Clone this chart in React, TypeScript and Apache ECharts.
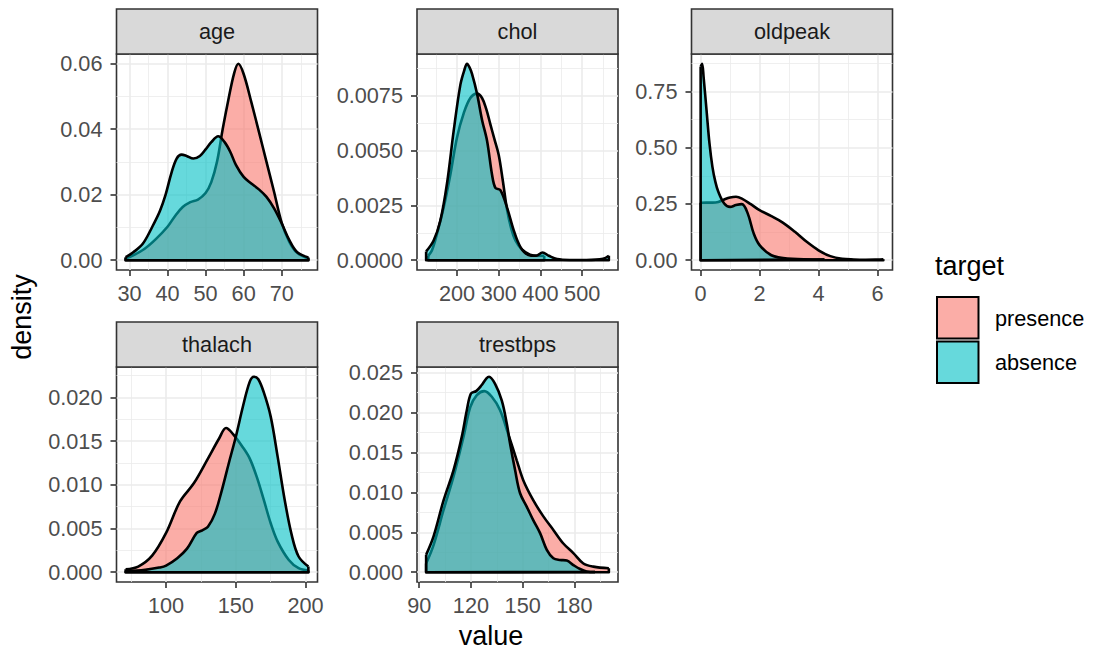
import React, { useEffect, useRef } from 'react';
import * as echarts from 'echarts';

// ---------- data ----------
const facetNames = ['age', 'chol', 'oldpeak', 'thalach', 'trestbps'];
const groupNames = ['presence', 'absence'];

// age
const agePresX = [29, 31, 34, 37, 40, 42, 44, 46, 48, 50, 51.5, 53, 54.5, 56, 57.5, 58.6, 60, 62, 64, 66, 68, 70, 72, 74, 77];
const agePresY = [0.0006, 0.0015, 0.0035, 0.0065, 0.0102, 0.0135, 0.0162, 0.0177, 0.0185, 0.0205, 0.0238, 0.03, 0.04, 0.049, 0.057, 0.0599, 0.0568, 0.0483, 0.0392, 0.03, 0.0208, 0.0114, 0.0056, 0.0023, 0.0005];
const ageAbsX = [29, 31, 33.5, 36, 38, 39.5, 41, 42.4, 43.7, 45, 46.8, 48.5, 50, 51.5, 53.3, 55, 56.5, 58, 60, 62, 64, 66, 68, 70, 72, 74, 77];
const ageAbsY = [0.0009, 0.0024, 0.005, 0.0102, 0.015, 0.02, 0.0265, 0.031, 0.0322, 0.0318, 0.031, 0.0318, 0.0338, 0.036, 0.0378, 0.036, 0.033, 0.029, 0.0254, 0.0234, 0.0216, 0.0193, 0.0158, 0.0112, 0.0061, 0.0025, 0.0008];

// chol
const cholPresX = [131, 140, 152, 168, 184, 200, 216, 232, 248, 260, 270, 280, 290, 300, 310, 320, 330, 340, 355, 375, 395, 409];
const cholPresY = [0.0002, 0.00045, 0.0012, 0.0024, 0.0039, 0.0056, 0.0067, 0.0074, 0.0076, 0.0074, 0.0069, 0.0062, 0.0055, 0.0048, 0.0036, 0.0023, 0.00144, 0.0009, 0.0005, 0.00025, 0.0002, 0.0002];
const cholAbsX = [126, 144, 160, 176, 192, 208, 218, 224, 230, 236, 248, 260, 272, 284, 292, 304, 320, 336, 352, 370, 390, 405, 420, 440, 470, 510, 550, 564];
const cholAbsY = [0.0004, 0.0009, 0.0018, 0.0035, 0.0059, 0.008, 0.0087, 0.00896, 0.0088, 0.0085, 0.0076, 0.0064, 0.00545, 0.0039, 0.0033, 0.0032, 0.0024, 0.00136, 0.0006, 0.00025, 0.0002, 0.00035, 0.0002, 0.00005, 0.00001, 0.00001, 0.00006, 0.0002];

// oldpeak
const oldPresX = [0, 0.2, 0.4, 0.6, 0.8, 1.0, 1.2, 1.4, 1.7, 2.0, 2.4, 2.8, 3.2, 3.6, 4.0, 4.4, 4.8, 5.2, 5.6, 6.0, 6.2];
const oldPresY = [0.255, 0.256, 0.256, 0.259, 0.27, 0.279, 0.282, 0.274, 0.249, 0.222, 0.196, 0.166, 0.126, 0.0815, 0.044, 0.018, 0.006, 0.003, 0.002, 0.003, 0.004];
const oldAbsX = [0, 0.05, 0.1, 0.2, 0.3, 0.4, 0.5, 0.6, 0.8, 1.0, 1.2, 1.4, 1.6, 1.8, 2.0, 2.4, 2.8, 3.5, 4.2];
const oldAbsY = [0.86, 0.873, 0.815, 0.667, 0.519, 0.415, 0.348, 0.304, 0.252, 0.237, 0.245, 0.249, 0.207, 0.119, 0.067, 0.022, 0.01, 0.004, 0.003];

// thalach
const thalPresX = [71, 80, 90, 100, 110, 120, 130, 138, 143, 148, 155, 160, 165, 170, 175, 180, 188, 195, 202];
const thalPresY = [0.00034, 0.00065, 0.0019, 0.0045, 0.0081, 0.0102, 0.013, 0.0153, 0.0165, 0.0158, 0.0143, 0.013, 0.0109, 0.0083, 0.0056, 0.0035, 0.0014, 0.00046, 0.0002];
const thalAbsX = [71, 85, 95, 100, 108, 115, 122, 126, 130, 135, 140, 145, 150, 155, 160, 163, 166, 170, 175, 180, 185, 190, 195, 202];
const thalAbsY = [0.0001, 0.00027, 0.00053, 0.00076, 0.0016, 0.0027, 0.0045, 0.0048, 0.0052, 0.0067, 0.0094, 0.0125, 0.0155, 0.0189, 0.0218, 0.02236, 0.0221, 0.0206, 0.0178, 0.0132, 0.0083, 0.0043, 0.0018, 0.00065];

// trestbps
const trestPresX = [94, 98.3, 104.1, 109.9, 115.7, 119.6, 123.4, 127.7, 132.1, 136.9, 141.8, 146.6, 150.4, 156.2, 162, 167.8, 173.6, 179.4, 185.2, 191, 200];
const trestPresY = [0.0011, 0.0034, 0.0078, 0.012, 0.017, 0.0207, 0.0222, 0.0227, 0.022, 0.0203, 0.0172, 0.014, 0.0115, 0.009, 0.007, 0.0053, 0.0036, 0.0024, 0.0011, 0.0007, 0.0005];
const trestAbsX = [94, 98.3, 104.1, 109.9, 114.7, 117.6, 120, 123, 126, 129, 130.5, 134, 137.9, 140.8, 142.7, 145.6, 148.5, 152.4, 156.2, 160.1, 164, 167.8, 171.7, 175.6, 179.4, 183.3, 187.1, 192];
const trestAbsY = [0.0022, 0.0045, 0.009, 0.0128, 0.017, 0.0203, 0.0224, 0.0227, 0.0234, 0.0243, 0.0245, 0.0236, 0.0215, 0.0186, 0.0161, 0.0128, 0.0099, 0.0082, 0.0065, 0.0049, 0.0028, 0.00175, 0.00154, 0.00146, 0.0009, 0.0004, 0.0001, 0.00002];

// ticks
const ageXTicks = [30, 40, 50, 60, 70];
const ageXMinor = [35, 45, 55, 65, 75];
const ageYTicks = [0, 0.02, 0.04, 0.06];
const ageYLabels = ['0.00', '0.02', '0.04', '0.06'];
const ageYMinor = [0.01, 0.03, 0.05];

const cholXTicks = [200, 300, 400, 500];
const cholXMinor = [150, 250, 350, 450, 550];
const cholYTicks = [0, 0.0025, 0.005, 0.0075];
const cholYLabels = ['0.0000', '0.0025', '0.0050', '0.0075'];
const cholYMinor = [0.00125, 0.00375, 0.00625, 0.00875];

const oldXTicks = [0, 2, 4, 6];
const oldXMinor = [1, 3, 5];
const oldYTicks = [0, 0.25, 0.5, 0.75];
const oldYLabels = ['0.00', '0.25', '0.50', '0.75'];
const oldYMinor = [0.125, 0.375, 0.625, 0.875];

const thalXTicks = [100, 150, 200];
const thalXMinor = [75, 125, 175];
const thalYTicks = [0, 0.005, 0.01, 0.015, 0.02];
const thalYLabels = ['0.000', '0.005', '0.010', '0.015', '0.020'];
const thalYMinor = [0.0025, 0.0075, 0.0125, 0.0175, 0.0225];

const trestXTicks = [90, 120, 150, 180];
const trestXMinor = [105, 135, 165, 195];
const trestYTicks = [0, 0.005, 0.01, 0.015, 0.02, 0.025];
const trestYLabels = ['0.000', '0.005', '0.010', '0.015', '0.020', '0.025'];
const trestYMinor = [0.0025, 0.0075, 0.0125, 0.0175, 0.0225];

// ---------- presentation ----------
const FONT = '"Liberation Sans", Arial, Helvetica, sans-serif';
const FILLS = ['rgba(248,118,109,0.6)', 'rgba(0,191,196,0.6)'];
const COL_LEFT = [116.5, 417, 691.5];
const ROW_TOP = [54, 367];
const ROW_H = [216, 215];
const PANEL_W = 201;
const STRIP_H = 45;
const TICK_FS = 21.7;
const TITLE_FS = 27;
const OUTLINE_W = 2.6;

const panels = [
  { px: agePresX, py: agePresY, ax: ageAbsX, ay: ageAbsY, xt: ageXTicks, xm: ageXMinor, yt: ageYTicks, yl: ageYLabels, ym: ageYMinor, r: 0, c: 0 },
  { px: cholPresX, py: cholPresY, ax: cholAbsX, ay: cholAbsY, xt: cholXTicks, xm: cholXMinor, yt: cholYTicks, yl: cholYLabels, ym: cholYMinor, r: 0, c: 1 },
  { px: oldPresX, py: oldPresY, ax: oldAbsX, ay: oldAbsY, xt: oldXTicks, xm: oldXMinor, yt: oldYTicks, yl: oldYLabels, ym: oldYMinor, r: 0, c: 2 },
  { px: thalPresX, py: thalPresY, ax: thalAbsX, ay: thalAbsY, xt: thalXTicks, xm: thalXMinor, yt: thalYTicks, yl: thalYLabels, ym: thalYMinor, r: 1, c: 0 },
  { px: trestPresX, py: trestPresY, ax: trestAbsX, ay: trestAbsY, xt: trestXTicks, xm: trestXMinor, yt: trestYTicks, yl: trestYLabels, ym: trestYMinor, r: 1, c: 1 },
];

const zip = (xs: number[], ys: number[]) => xs.map((x, i) => [x, ys[i]]);

function buildOption() {
  const grids: any[] = [];
  const xAxes: any[] = [];
  const yAxes: any[] = [];
  const series: any[] = [];
  const graphics: any[] = [];

  panels.forEach((p, i) => {
    const left = COL_LEFT[p.c];
    const top = ROW_TOP[p.r];
    const height = ROW_H[p.r];
    grids.push({ left, top, width: PANEL_W, height, show: true, backgroundColor: '#FFFFFF', borderColor: '#333333', borderWidth: 1.6, containLabel: false });

    const allX = [...p.px, ...p.ax];
    const xmin = Math.min(...allX);
    const xmax = Math.max(...allX);
    const pad = 0.05 * (xmax - xmin);
    const M = Math.max(...p.py, ...p.ay);
    const xr = [xmin - pad, xmax + pad];
    const yr = [-0.05 * M, 1.05 * M];

    const xi = xAxes.length;
    xAxes.push({
      type: 'value', gridIndex: i, min: xr[0], max: xr[1], position: 'bottom',
      axisLine: { show: false, onZero: false },
      axisTick: { show: true, length: 6, lineStyle: { color: '#333333', width: 1.6 }, customValues: p.xt },
      axisLabel: { show: true, customValues: p.xt, formatter: (v: number) => String(Math.round(v * 100) / 100), fontSize: TICK_FS, color: '#4D4D4D', margin: 12, fontFamily: FONT },
      splitLine: { show: true, lineStyle: { color: '#EBEBEB', width: 1.6 } },
    });
    xAxes.push({
      type: 'value', gridIndex: i, min: xr[0], max: xr[1], position: 'bottom',
      axisLine: { show: false, onZero: false },
      axisTick: { show: false, customValues: p.xm },
      axisLabel: { show: false, customValues: p.xm },
      splitLine: { show: true, lineStyle: { color: '#EBEBEB', width: 0.8 } },
    });
    const yi = yAxes.length;
    const ylabels = p.yl;
    const yticks = p.yt;
    yAxes.push({
      type: 'value', gridIndex: i, min: yr[0], max: yr[1], position: 'left',
      axisLine: { show: false, onZero: false },
      axisTick: { show: true, length: 6, lineStyle: { color: '#333333', width: 1.6 }, customValues: yticks },
      axisLabel: {
        show: true, customValues: yticks, fontSize: TICK_FS, color: '#4D4D4D', margin: 14, fontFamily: FONT,
        formatter: (v: number) => { const k = yticks.findIndex((t) => Math.abs(t - v) < 1e-9); return k >= 0 ? ylabels[k] : ''; },
      },
      splitLine: { show: true, lineStyle: { color: '#EBEBEB', width: 1.6 } },
    });
    yAxes.push({
      type: 'value', gridIndex: i, min: yr[0], max: yr[1], position: 'left',
      axisLine: { show: false, onZero: false },
      axisTick: { show: false, customValues: p.ym },
      axisLabel: { show: false, customValues: p.ym },
      splitLine: { show: true, lineStyle: { color: '#EBEBEB', width: 0.8 } },
    });

    const curves = [[p.px, p.py], [p.ax, p.ay]];
    curves.forEach(([xs, ys], g) => {
      series.push({
        type: 'line', name: groupNames[g], xAxisIndex: xi, yAxisIndex: yi, z: 2 + g,
        data: zip(xs, ys), smooth: 0.35, symbol: 'none', silent: true,
        lineStyle: { color: '#000000', width: OUTLINE_W },
        areaStyle: { color: FILLS[g], opacity: 1 },
      });
      const n = xs.length - 1;
      series.push({
        type: 'line', name: groupNames[g] + '-edge', xAxisIndex: xi, yAxisIndex: yi, z: 2 + g,
        data: [[xs[n], ys[n]], [xs[n], 0], [xs[0], 0], [xs[0], ys[0]]],
        symbol: 'none', silent: true,
        lineStyle: { color: '#000000', width: OUTLINE_W, join: 'round' },
      });
    });

    // strip
    graphics.push({
      type: 'rect', silent: true, z: 10,
      shape: { x: left, y: top - STRIP_H, width: PANEL_W, height: STRIP_H },
      style: { fill: '#D9D9D9', stroke: '#333333', lineWidth: 1.6 },
    });
    graphics.push({
      type: 'text', silent: true, z: 11, x: left + PANEL_W / 2, y: top - STRIP_H / 2,
      style: { text: facetNames[i], fontSize: TICK_FS, fontFamily: FONT, fill: '#1A1A1A', align: 'center', verticalAlign: 'middle' },
    });
  });

  // axis titles
  graphics.push({
    type: 'text', silent: true, x: 491, y: 636,
    style: { text: 'value', fontSize: TITLE_FS, fontFamily: FONT, fill: '#000000', align: 'center', verticalAlign: 'middle' },
  });
  graphics.push({
    type: 'text', silent: true, x: 22, y: 317, rotation: Math.PI / 2,
    style: { text: 'density', fontSize: TITLE_FS, fontFamily: FONT, fill: '#000000', align: 'center', verticalAlign: 'middle' },
  });

  // legend
  graphics.push({
    type: 'text', silent: true, x: 935, y: 266,
    style: { text: 'target', fontSize: TITLE_FS, fontFamily: FONT, fill: '#000000', align: 'left', verticalAlign: 'middle' },
  });
  groupNames.forEach((g, k) => {
    graphics.push({
      type: 'rect', silent: true,
      shape: { x: 937, y: 297 + k * 44.5, width: 41.5, height: 41.5 },
      style: { fill: FILLS[k], stroke: '#000000', lineWidth: 2 },
    });
    graphics.push({
      type: 'text', silent: true, x: 995, y: 318.5 + k * 43.5,
      style: { text: g, fontSize: TICK_FS, fontFamily: FONT, fill: '#000000', align: 'left', verticalAlign: 'middle' },
    });
  });

  return {
    animation: false,
    backgroundColor: '#FFFFFF',
    textStyle: { fontFamily: FONT },
    grid: grids,
    xAxis: xAxes,
    yAxis: yAxes,
    series,
    graphic: graphics,
  };
}

export default function App() {
  const ref = useRef<HTMLDivElement>(null);
  useEffect(() => {
    if (!ref.current) return;
    const chart = echarts.init(ref.current, undefined, { renderer: 'svg' });
    chart.setOption(buildOption() as any);
    return () => chart.dispose();
  }, []);
  return <div ref={ref} style={{ position: 'absolute', left: 0, top: 0, width: 1095, height: 652 }} />;
}
